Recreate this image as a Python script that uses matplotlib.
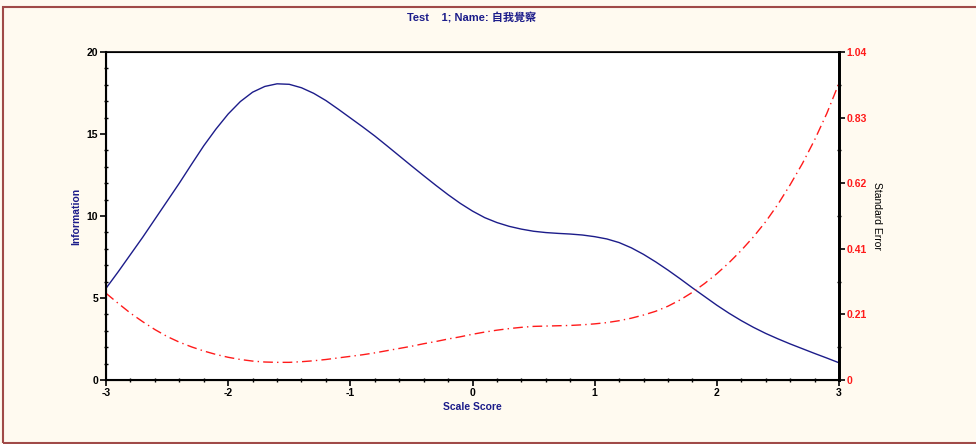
import matplotlib
matplotlib.use("Agg")
import matplotlib.pyplot as plt
from matplotlib.patches import Rectangle
from matplotlib.ticker import MultipleLocator, FixedLocator

plt.rcParams['font.family'] = ['Liberation Sans', 'Noto Sans CJK TC', 'DejaVu Sans']
plt.rcParams['axes.unicode_minus'] = False

# Scale score grid
theta = [-3.0, -2.9, -2.8, -2.7, -2.6, -2.5, -2.4, -2.3, -2.2, -2.1,
         -2.0, -1.9, -1.8, -1.7, -1.6, -1.5, -1.4, -1.3, -1.2, -1.1,
         -1.0, -0.9, -0.8, -0.7, -0.6, -0.5, -0.4, -0.3, -0.2, -0.1,
         0.0, 0.1, 0.2, 0.3, 0.4, 0.5, 0.6, 0.7, 0.8, 0.9,
         1.0, 1.1, 1.2, 1.3, 1.4, 1.5, 1.6, 1.7, 1.8, 1.9,
         2.0, 2.1, 2.2, 2.3, 2.4, 2.5, 2.6, 2.7, 2.8, 2.9, 3.0]

# Test information function
information = [5.59, 6.6, 7.65, 8.7, 9.8, 10.9, 12.0, 13.15, 14.28, 15.3,
               16.22, 16.98, 17.55, 17.9, 18.06, 18.03, 17.82, 17.48, 17.04, 16.52,
               15.98, 15.44, 14.88, 14.28, 13.67, 13.06, 12.46, 11.87, 11.3, 10.77,
               10.3, 9.9, 9.6, 9.37, 9.2, 9.07, 8.99, 8.94, 8.9, 8.84,
               8.74, 8.6, 8.38, 8.06, 7.66, 7.2, 6.7, 6.17, 5.62, 5.09,
               4.56, 4.07, 3.62, 3.21, 2.84, 2.51, 2.2, 1.91, 1.62, 1.34, 1.05]

# Standard error of measurement
std_error = [0.275, 0.243, 0.212, 0.185, 0.16, 0.138, 0.12, 0.105, 0.092, 0.081,
             0.072, 0.065, 0.06, 0.057, 0.056, 0.056, 0.058, 0.061, 0.065, 0.07,
             0.075, 0.08, 0.086, 0.093, 0.1, 0.107, 0.115, 0.122, 0.13, 0.137,
             0.145, 0.152, 0.158, 0.163, 0.167, 0.17, 0.171, 0.172, 0.173, 0.175,
             0.178, 0.182, 0.188, 0.196, 0.206, 0.218, 0.234, 0.254, 0.278, 0.306,
             0.337, 0.372, 0.411, 0.454, 0.502, 0.557, 0.619, 0.686, 0.761, 0.845, 0.941]

x_ticks = [-3, -2, -1, 0, 1, 2, 3]
info_ticks = [0, 5, 10, 15, 20]
se_ticks = [0, 0.208, 0.416, 0.624, 0.832, 1.04]
se_tick_labels = ['0', '0.21', '0.41', '0.62', '0.83', '1.04']

navy = '#1c1c8a'
bg = '#fffaf0'

W, H = 976, 444
fig = plt.figure(figsize=(W / 100, H / 100), dpi=100, facecolor=bg)

# outer frame
fig.patches.append(Rectangle((3 / W, 1.5 / H), 975 / W, (H - 8.5) / H,
                             transform=fig.transFigure, fill=False,
                             edgecolor='#a04a48', linewidth=1.5))

ax = fig.add_axes([106 / W, 1 - 380 / H, (839 - 106) / W, (380 - 52) / H])
ax.set_facecolor('white')

ax.plot(theta, information, color=navy, linewidth=1.0)
ax.set_xlim(-3, 3)
ax.set_ylim(0, 20)
ax.set_xticks(x_ticks)
ax.set_yticks(info_ticks)
ax.xaxis.set_minor_locator(MultipleLocator(0.2))
ax.yaxis.set_minor_locator(MultipleLocator(1))
ax.tick_params(axis='both', which='major', direction='out', length=4, width=1.2,
               labelsize=7.5, pad=1.5, colors='black')
ax.tick_params(axis='both', which='minor', direction='inout', length=3, width=1.0)
for lab in ax.get_xticklabels() + ax.get_yticklabels():
    lab.set_fontweight('bold')

for side, lw in (('left', 1.5), ('bottom', 1.5), ('top', 1.2), ('right', 2.0)):
    ax.spines[side].set_linewidth(lw)
    ax.spines[side].set_color('black')

ax.set_xlabel('Scale Score', color=navy, fontsize=7.5, fontweight='bold', labelpad=3)
ax.set_ylabel('Information', color=navy, fontsize=7.5, fontweight='bold', labelpad=4)

ax2 = ax.twinx()
ax2.plot(theta, std_error, color='#ff1a1a', linewidth=1.0, dashes=(7, 3, 1, 3))
ax2.set_ylim(0, 1.04)
ax2.yaxis.set_major_locator(FixedLocator(se_ticks))
ax2.set_yticklabels(se_tick_labels)
ax2.yaxis.set_minor_locator(MultipleLocator(0.104))
ax2.tick_params(axis='y', which='major', direction='out', length=4, width=1.2,
                labelsize=7.5, pad=1.5, labelcolor='#ff1a1a', color='black')
ax2.tick_params(axis='y', which='minor', direction='inout', length=3, width=1.0)
for lab in ax2.get_yticklabels():
    lab.set_fontweight('bold')
ax2.spines['right'].set_linewidth(2.0)
ax2.set_ylabel('Standard Error', color='black', fontsize=7.5, rotation=-90,
               labelpad=11)

fig.text(472 / W, 1 - 18 / H, 'Test    1; Name: 自我覺察', color=navy,
         fontsize=8, fontweight='bold', ha='center', va='center')

fig.savefig('out.png', dpi=100, facecolor=bg)
